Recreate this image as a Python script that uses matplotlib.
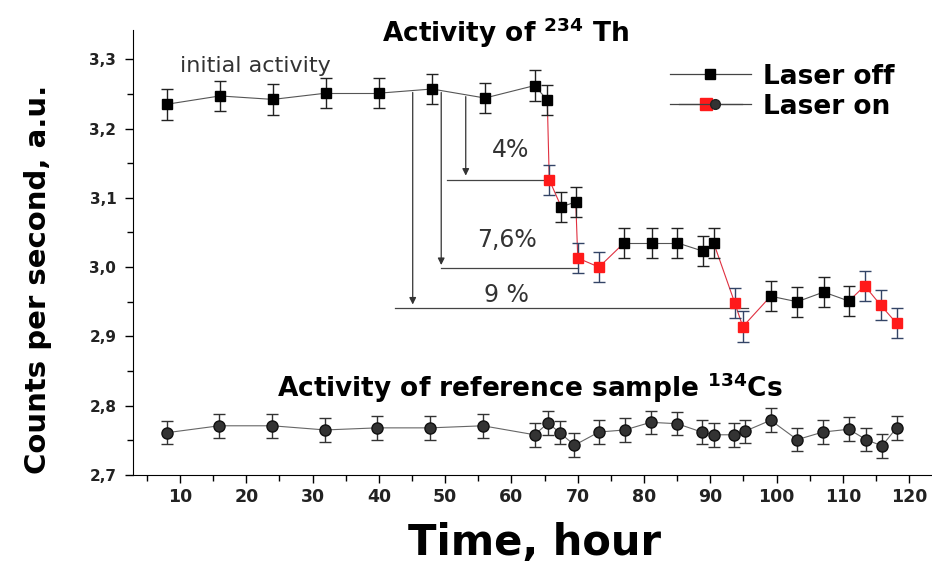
import matplotlib
matplotlib.use("Agg")
import matplotlib.pyplot as plt
from matplotlib.legend_handler import HandlerTuple
import numpy as np

plt.rcParams['font.family'] = ['DejaVu Sans']

# Th-234 activity, laser flag 1 = laser on
th_time = [8, 16, 24, 32, 40, 48, 56, 63.5, 65.4, 65.7, 67.5, 69.7, 70.0, 73.2,
           77.0, 81.2, 85.0, 88.9, 90.5, 93.7, 94.9, 99.1, 103.1, 107.1, 110.9,
           113.3, 115.7, 118.1]
th_counts = [3.235, 3.247, 3.242, 3.251, 3.251, 3.257, 3.244, 3.262, 3.241, 3.126,
             3.087, 3.094, 3.013, 3.000, 3.035, 3.035, 3.035, 3.023, 3.035, 2.948,
             2.914, 2.958, 2.950, 2.964, 2.951, 2.973, 2.945, 2.919]
th_laser = [0, 0, 0, 0, 0, 0, 0, 0, 0, 1, 0, 0, 1, 1, 0, 0, 0, 0, 0, 1, 1, 0, 0, 0, 0,
            1, 1, 1]
th_err = 0.022

# Cs-134 reference
cs_time = [8.0, 15.9, 23.9, 31.9, 39.7, 47.7, 55.7, 63.5, 65.5, 67.3, 69.5, 73.2,
           77.1, 81.0, 85.0, 88.7, 90.5, 93.6, 95.2, 99.1, 103.1, 107.0, 110.9,
           113.5, 115.9, 118.1]
cs_counts = [2.761, 2.771, 2.771, 2.765, 2.768, 2.768, 2.771, 2.758, 2.775, 2.761,
             2.743, 2.762, 2.765, 2.776, 2.774, 2.762, 2.758, 2.758, 2.763, 2.779,
             2.751, 2.762, 2.766, 2.751, 2.742, 2.768]
cs_err = 0.017

th_time = np.array(th_time)
th_counts = np.array(th_counts)
th_laser = np.array(th_laser)
off = th_laser == 0
on = th_laser == 1

fig = plt.figure(figsize=(9.32, 5.66), dpi=100)
ax = fig.add_axes([0.1427, 0.1608, 0.857, 0.786])

# connecting lines
for i in range(len(th_time) - 1):
    c = '#e03040' if (th_laser[i] or th_laser[i + 1]) else '#555555'
    ax.plot(th_time[i:i + 2], th_counts[i:i + 2], color=c, lw=0.8, zorder=2)
ax.plot(cs_time, cs_counts, color='#666666', lw=0.8, zorder=2)

ax.errorbar(th_time[off], th_counts[off], yerr=th_err, fmt='s', color='black',
            ms=7, ecolor='#222222', elinewidth=1, capsize=4, zorder=3)
ax.errorbar(th_time[on], th_counts[on], yerr=th_err, fmt='s', color='#ff1a1a',
            mec='#ff1a1a', ms=7, ecolor='#334466', elinewidth=1, capsize=4, zorder=3)
ax.errorbar(cs_time, cs_counts, yerr=cs_err, fmt='o', color='#333333',
            mec='#111111', ms=8, ecolor='#333333', elinewidth=1, capsize=4, zorder=3)

# arrows for the drops
arrow_kw = dict(arrowstyle='-|>', color='#333333', lw=0.9, mutation_scale=10)
ax.annotate('', xy=(45.1, 2.942), xytext=(45.1, 3.256), arrowprops=arrow_kw)
ax.annotate('', xy=(49.4, 2.999), xytext=(49.4, 3.256), arrowprops=arrow_kw)
ax.annotate('', xy=(53.1, 3.128), xytext=(53.1, 3.250), arrowprops=arrow_kw)
ax.plot([42.4, 95.7], [2.941, 2.941], color='#444444', lw=0.9)
ax.plot([49.3, 70.0], [2.998, 2.998], color='#444444', lw=0.9)
ax.plot([50.3, 65.7], [3.126, 3.126], color='#444444', lw=0.9)

ax.text(59.8, 3.169, '4%', fontsize=17, ha='center', va='center', color='#333333')
ax.text(59.3, 3.039, '7,6%', fontsize=17, ha='center', va='center', color='#333333')
ax.text(59.3, 2.96, '9 %', fontsize=17, ha='center', va='center', color='#333333')
ax.text(10, 3.29, 'initial activity', fontsize=16, ha='left', va='center',
        color='#333333')
ax.text(0.467, 0.973, r'Activity of $^{\mathbf{234}}$ Th', transform=ax.transAxes,
        fontsize=19, fontweight='bold', ha='center', va='baseline')
ax.text(62.8, 2.8125, r'Activity of reference sample $^{\mathbf{134}}$Cs',
        fontsize=19, fontweight='bold', ha='center', va='baseline')

h_off, = ax.plot([], [], '-s', color='#444444', mfc='black', mec='black', ms=7, lw=0.9)
h_on, = ax.plot([], [], '-s', color='#444444', mfc='#ff1a1a', mec='#ff1a1a', ms=9,
                lw=0.9)
h_on2, = ax.plot([], [], '-o', color='#444444', mfc='#333333', mec='#222222', ms=7,
                 lw=0.9)
leg = ax.legend([h_off, (h_on, h_on2)], ['Laser off', 'Laser on'], loc='upper left',
                bbox_to_anchor=(0.642, 0.978), frameon=False, handlelength=3.1,
                handletextpad=0.45, labelspacing=0.15,
                handler_map={tuple: HandlerTuple(ndivide=None, pad=-2.4)},
                prop={'size': 19, 'weight': 'bold'})

ax.set_xlim(2.9, 123.4)
ax.set_ylim(2.7, 3.342)
ax.set_xticks(np.arange(10, 121, 10))
ax.set_xticks(np.arange(5, 121, 5), minor=True)
ax.set_yticks(np.arange(2.7, 3.31, 0.1))
ax.set_yticks(np.arange(2.75, 3.3, 0.1), minor=True)
ax.set_yticklabels(['2,7', '2,8', '2,9', '3,0', '3,1', '3,2', '3,3'])
for lab in ax.get_xticklabels():
    lab.set_fontweight('bold')
    lab.set_fontsize(12.5)
    lab.set_color('#222222')
for lab in ax.get_yticklabels():
    lab.set_fontweight('bold')
    lab.set_fontsize(11)
    lab.set_color('#222222')
ax.tick_params(which='major', direction='out', length=6, width=1)
ax.tick_params(which='minor', direction='out', length=4, width=1)
ax.tick_params(axis='y', pad=6)
ax.spines['top'].set_visible(False)
ax.spines['right'].set_visible(False)

ax.set_xlabel('Time, hour', fontsize=30, fontweight='bold')
ax.xaxis.set_label_coords(0.503, -0.105)
ax.set_ylabel('Counts per second, a.u.', fontsize=21, fontweight='bold')
ax.yaxis.set_label_coords(-0.102, 0.44)

fig.savefig('out.png', dpi=100)
